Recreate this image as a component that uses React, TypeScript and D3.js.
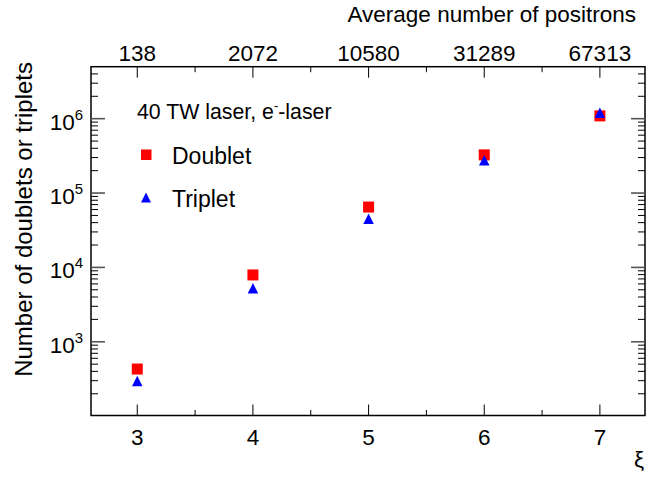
import React from 'react';
import * as d3 from 'd3';

// chart values
const xi = [3, 4, 5, 6, 7];
const positronLabels = ['138', '2072', '10580', '31289', '67313'];
const doublet = [430, 7920, 64800, 326000, 1090000];
const triplet = [292, 5180, 44500, 271000, 1180000];
const yDecades = [3, 4, 5, 6];

const width = 649;
const height = 479;
const left = 91;
const right = 645;
const top = 66.7;
const bottom = 415.5;
const font = '"Liberation Sans", Arial, sans-serif';

const x = d3.scaleLinear().domain([2.6, 7.39]).range([left, right]);
const y = d3.scaleLog().domain([102, 5e6]).range([bottom, top]);

const triangle = (cx: number, cy: number, s: number) =>
  `M${cx},${cy - s * 0.55}L${cx + s / 2},${cy + s * 0.45}L${cx - s / 2},${cy + s * 0.45}Z`;

export default function App() {
  // minor x ticks at half steps
  const xMinor = d3.range(2.5, 7.5, 0.5).filter(v => v % 1 !== 0 && v > 2.6 && v < 7.39);
  // log ticks 2..9 x 10^n inside the domain
  const yMinor: number[] = [];
  for (let e = 2; e <= 6; e++) {
    for (let m = 2; m <= 9; m++) {
      const v = m * Math.pow(10, e);
      if (v > 102 && v < 5e6) yMinor.push(v);
    }
  }
  const yMajor = yDecades.map(d => Math.pow(10, d));

  return (
    <svg width={width} height={height} style={{ position: 'absolute', left: 0, top: 0, background: '#fff' }}
      fontFamily={font}>
      <rect x={0} y={0} width={width} height={height} fill="#fff" />

      {/* frame */}
      <rect x={left} y={top} width={right - left} height={bottom - top} fill="none" stroke="#000" strokeWidth={1.5} />

      {/* x ticks, bottom and top */}
      <g stroke="#000" strokeWidth={1}>
        {xi.map(v => (
          <g key={'xm' + v}>
            <line x1={x(v)} x2={x(v)} y1={bottom} y2={bottom - 11} />
            <line x1={x(v)} x2={x(v)} y1={top} y2={top + 11} />
          </g>
        ))}
        {xMinor.map(v => (
          <g key={'xn' + v}>
            <line x1={x(v)} x2={x(v)} y1={bottom} y2={bottom - 5.5} />
            <line x1={x(v)} x2={x(v)} y1={top} y2={top + 5.5} />
          </g>
        ))}
        {yMajor.map(v => (
          <g key={'ym' + v}>
            <line x1={left} x2={left + 14} y1={y(v)} y2={y(v)} stroke="#555" strokeWidth={1.6} />
            <line x1={right} x2={right - 14} y1={y(v)} y2={y(v)} stroke="#555" strokeWidth={1.6} />
          </g>
        ))}
        {yMinor.map(v => (
          <g key={'yn' + v}>
            <line x1={left} x2={left + 7} y1={y(v)} y2={y(v)} />
            <line x1={right} x2={right - 7} y1={y(v)} y2={y(v)} />
          </g>
        ))}
      </g>

      {/* bottom tick labels */}
      <g fontSize={22.5} textAnchor="middle" fill="#000">
        {xi.map(v => (
          <text key={'xl' + v} x={x(v)} y={bottom + 29}>{v}</text>
        ))}
      </g>

      {/* top tick labels */}
      <g fontSize={22.5} textAnchor="middle" fill="#000">
        {xi.map((v, i) => (
          <text key={'tl' + v} x={x(v)} y={top - 6}>{positronLabels[i]}</text>
        ))}
      </g>

      {/* y tick labels */}
      <g fontSize={22.5} textAnchor="end" fill="#000">
        {yDecades.map(d => (
          <text key={'yl' + d} x={83} y={y(Math.pow(10, d)) + 11}>
            10<tspan fontSize={15} dy={-10}>{d}</tspan>
          </text>
        ))}
      </g>

      {/* axis titles */}
      <text x={636} y={22} fontSize={22.5} textAnchor="end">Average number of positrons</text>
      <text x={644} y={467} fontSize={22.5} textAnchor="end">ξ</text>
      <text transform="translate(32,62) rotate(-90)" fontSize={24} textAnchor="end">
        Number of doublets or triplets
      </text>

      {/* data points */}
      <g fill="#ff0000">
        {xi.map((v, i) => (
          <rect key={'d' + v} x={x(v) - 5.5} y={y(doublet[i]) - 5.5} width={11} height={11} />
        ))}
      </g>
      <g fill="#0000ff">
        {xi.map((v, i) => (
          <path key={'t' + v} d={triangle(x(v), y(triplet[i]), 10.5)} />
        ))}
      </g>

      {/* legend */}
      <text x={137} y={119} fontSize={21.3}>
        40 TW laser, e<tspan fontSize={13} dy={-9}>-</tspan><tspan dy={9}>-laser</tspan>
      </text>
      <rect x={141} y={149.5} width={10.5} height={10.5} fill="#ff0000" />
      <text x={172} y={164} fontSize={23}>Doublet</text>
      <path d={triangle(146, 198, 10)} fill="#0000ff" />
      <text x={172} y={207} fontSize={23}>Triplet</text>
    </svg>
  );
}
